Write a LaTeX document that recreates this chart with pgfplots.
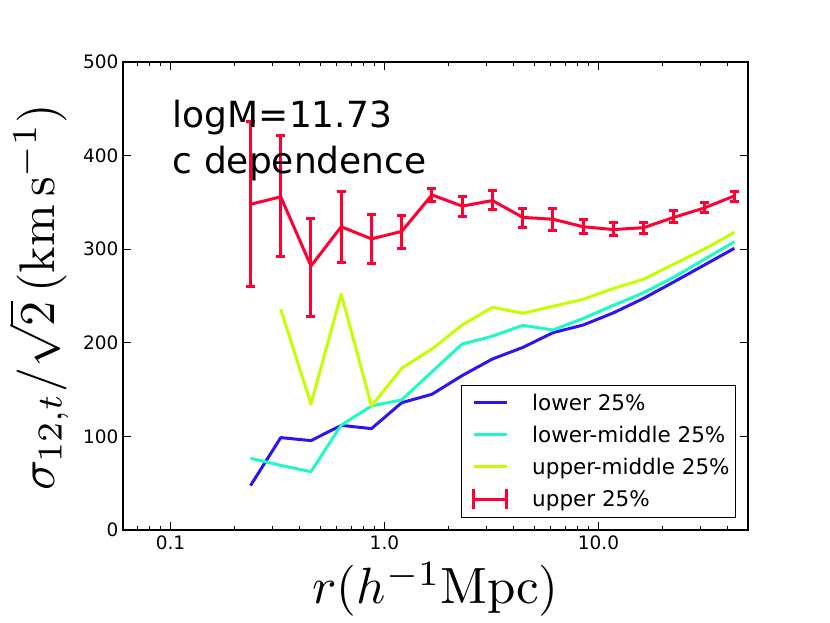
\documentclass[border=0pt]{standalone}
\usepackage{graphicx}
\usepackage{pgfplots}
\pgfplotsset{compat=1.18}
\usepackage{fontspec}
\newfontfamily\dv{DejaVu Sans}
\definecolor{cLow}{RGB}{45,20,240}
\definecolor{cLowMid}{RGB}{30,250,195}
\definecolor{cUpMid}{RGB}{195,255,0}
\definecolor{cUp}{RGB}{255,0,50}
\begin{document}
\begin{tikzpicture}
\useasboundingbox (0,0) rectangle (830pt,623pt);
\begin{axis}[
  at={(123pt,93pt)}, anchor=south west,
  scale only axis, width=625pt, height=468pt,
  xmode=log, xmin=0.06, xmax=50, ymin=0, ymax=500,
  xtick={0.1,1,10}, xticklabels={0.1,1.0,10.0},
  minor xtick={0.06,0.07,0.08,0.09,0.2,0.3,0.4,0.5,0.6,0.7,0.8,0.9,2,3,4,5,6,7,8,9,20,30,40,50},
  ytick={0,100,200,300,400,500}, yticklabels={0,100,200,300,400,500},
  tick align=inside,
  major tick length=8pt, minor tick length=4pt,
  every tick/.style={black, line width=1pt},
  axis line style={line width=1.3pt},
  tick label style={font=\dv\fontsize{18.5}{18.5}\selectfont},
  xticklabel style={yshift=-2pt},
  yticklabel style={xshift=-1pt},
  xlabel={\scalebox{5.1}{$r(h^{-1}\mathrm{Mpc})$}},
  xlabel style={font=\fontsize{10}{12}\selectfont, at={(axis description cs:0.5,-0.158)}, anchor=base, inner sep=0pt},
  ylabel={\scalebox{5.0}{$\sigma_{12,t}/\sqrt{2}\,(\mathrm{km\,s^{-1}})$}},
  ylabel style={font=\fontsize{10}{12}\selectfont, at={(axis description cs:-0.110,0.497)}, anchor=base, inner sep=0pt},
  legend style={at={(axis description cs:0.981,0.0256)}, anchor=south east, draw=black, line width=1pt,
    font=\dv\fontsize{21.5}{25}\selectfont, inner xsep=4pt, inner ysep=7pt, row sep=10pt, column sep=22pt},
  legend cell align=left,
  legend image code/.code={\path (0pt,0pt); \draw[#1, line width=3pt] (7pt,0pt) -- (40pt,0pt);},
  every axis plot/.append style={line width=3pt, line join=round},
]
\addplot[color=cLow, mark=none] table[x=x, y=y] {
x y
0.2366 47.4
0.3276 98.7
0.4536 95.5
0.628 111.8
0.870 108.3
1.204 136
1.667 145
2.309 165
3.196 182.7
4.43 195
6.13 210.8
8.49 219
11.75 232
16.27 247.5
22.5 265
31.2 283
43.2 301
};
\addlegendentry{lower 25\%}
\addplot[color=cLowMid, mark=none] table[x=x, y=y] {
x y
0.2366 76.6
0.3276 69
0.4536 62.3
0.628 112
0.870 132.5
1.204 139
1.667 169
2.309 198.7
3.196 207
4.43 218.7
6.13 213.7
8.49 226
11.75 240
16.27 253.5
22.5 270
31.2 289
43.2 308
};
\addlegendentry{lower-middle 25\%}
\addplot[color=cUpMid, mark=none] table[x=x, y=y] {
x y
0.3276 235.8
0.4536 134.6
0.628 252
0.870 132.5
1.204 172.7
1.667 193.4
2.309 219
3.196 238
4.43 231.5
6.13 239
8.49 246.5
11.75 258
16.27 268
22.5 284
31.2 300
43.2 318
};
\addlegendentry{upper-middle 25\%}
\addplot[color=cUp, mark=none,
  legend image code/.code={
    \path (0pt,0pt);
    \draw[cUp, line width=3pt] (7pt,0pt) -- (40pt,0pt);
    \draw[cUp, line width=3pt] (7pt,-10pt) -- (7pt,10pt);
    \draw[cUp, line width=3pt] (40pt,-10pt) -- (40pt,10pt);},
  error bars/.cd, y dir=both, y explicit,
  error bar style={line width=3pt},
  error mark options={rotate=90, mark size=4.5pt, line width=3pt}]
  table[x=x, y=y, y error plus=ep, y error minus=em] {
x y ep em
0.2366 348 88 88
0.3276 356 65 64
0.4536 282 51 54
0.628 324 38 38
0.870 311 26 26
1.204 319 17 18
1.667 358 7 7
2.309 346 10 11
3.196 352 11 10
4.43 334 10 11
6.13 332 11 12
8.49 324 8 7
11.75 321 7 6
16.27 323 6 6
22.5 334 7 6
31.2 344 6 5
43.2 357 5 6
};
\addlegendentry{upper 25\%}
\node[anchor=base west, font=\dv\fontsize{36}{36}\selectfont, inner sep=0pt] at (axis description cs:0.0795,0.8605) {logM=11.73};
\node[anchor=base west, font=\dv\fontsize{36}{36}\selectfont, inner sep=0pt] at (axis description cs:0.0795,0.7607) {c dependence};
\end{axis}
\end{tikzpicture}
\end{document}
